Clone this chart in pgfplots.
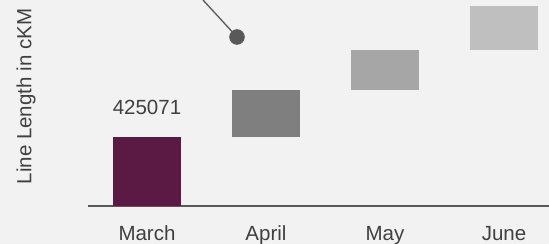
\documentclass[border=0pt]{standalone}
\usepackage{pgfplots}
\pgfplotsset{compat=1.18}
\usepackage{fontspec}
\setmainfont{Liberation Sans}
\definecolor{bg}{HTML}{F2F2F2}
\definecolor{txt}{HTML}{404040}
\definecolor{axc}{HTML}{595959}
\definecolor{mar}{HTML}{5B1A44}
\definecolor{apr}{HTML}{7F7F7F}
\definecolor{may}{HTML}{A6A6A6}
\definecolor{jun}{HTML}{BFBFBF}
\begin{document}
\begin{tikzpicture}[font=\fontsize{20.5bp}{24bp}\selectfont]
\fill[bg] (0,0) rectangle (549bp,244bp);
\useasboundingbox (0,0) rectangle (549bp,244bp);
\begin{axis}[
  at={(88bp,38bp)}, anchor=south west,
  scale only axis, width=461bp, height=206bp,
  xmin=-0.4958, xmax=3.3782, ymin=0, ymax=206,
  axis x line=bottom, axis y line=none,
  axis line style={-, draw=axc, line width=1.5bp},
  ybar stacked, bar width=68bp,
  xtick={0,1,2,3}, xticklabels={March,April,May,June},
  xtick style={draw=none},
  xticklabel style={anchor=base, yshift=-32bp, inner sep=0pt, text=txt, font=\fontsize{20.5bp}{24bp}\selectfont},
  clip=false,
]
\addplot[draw=none, fill=none] coordinates {(0,0) (1,69) (2,116) (3,156)};
\addplot[draw=none, fill=mar] coordinates {(0,69) (1,0) (2,0) (3,0)};
\addplot[draw=none, fill=apr] coordinates {(0,0) (1,47) (2,0) (3,0)};
\addplot[draw=none, fill=may] coordinates {(0,0) (1,0) (2,40) (3,0)};
\addplot[draw=none, fill=jun] coordinates {(0,0) (1,0) (2,0) (3,44)};
\end{axis}
\begin{axis}[
  at={(88bp,38bp)}, anchor=south west,
  scale only axis, width=461bp, height=206bp,
  xmin=-0.4958, xmax=3.3782, ymin=0, ymax=206,
  axis lines=none, clip=false,
]
\addplot[draw=axc, line width=1.3bp, mark=none] coordinates {(0.4706,206) (0.7563,169)};
\addplot[only marks, mark=*, mark size=7.5bp, mark options={fill=axc, draw=axc}] coordinates {(0.7563,169)};
\node[anchor=base, text=txt, inner sep=0pt] at (axis cs:0,91) {425071};
\node[anchor=base, rotate=90, text=txt, inner sep=0pt] at (rel axis cs:-0.1226,0.5316) {Line Length in cKM};
\end{axis}
\end{tikzpicture}
\end{document}
